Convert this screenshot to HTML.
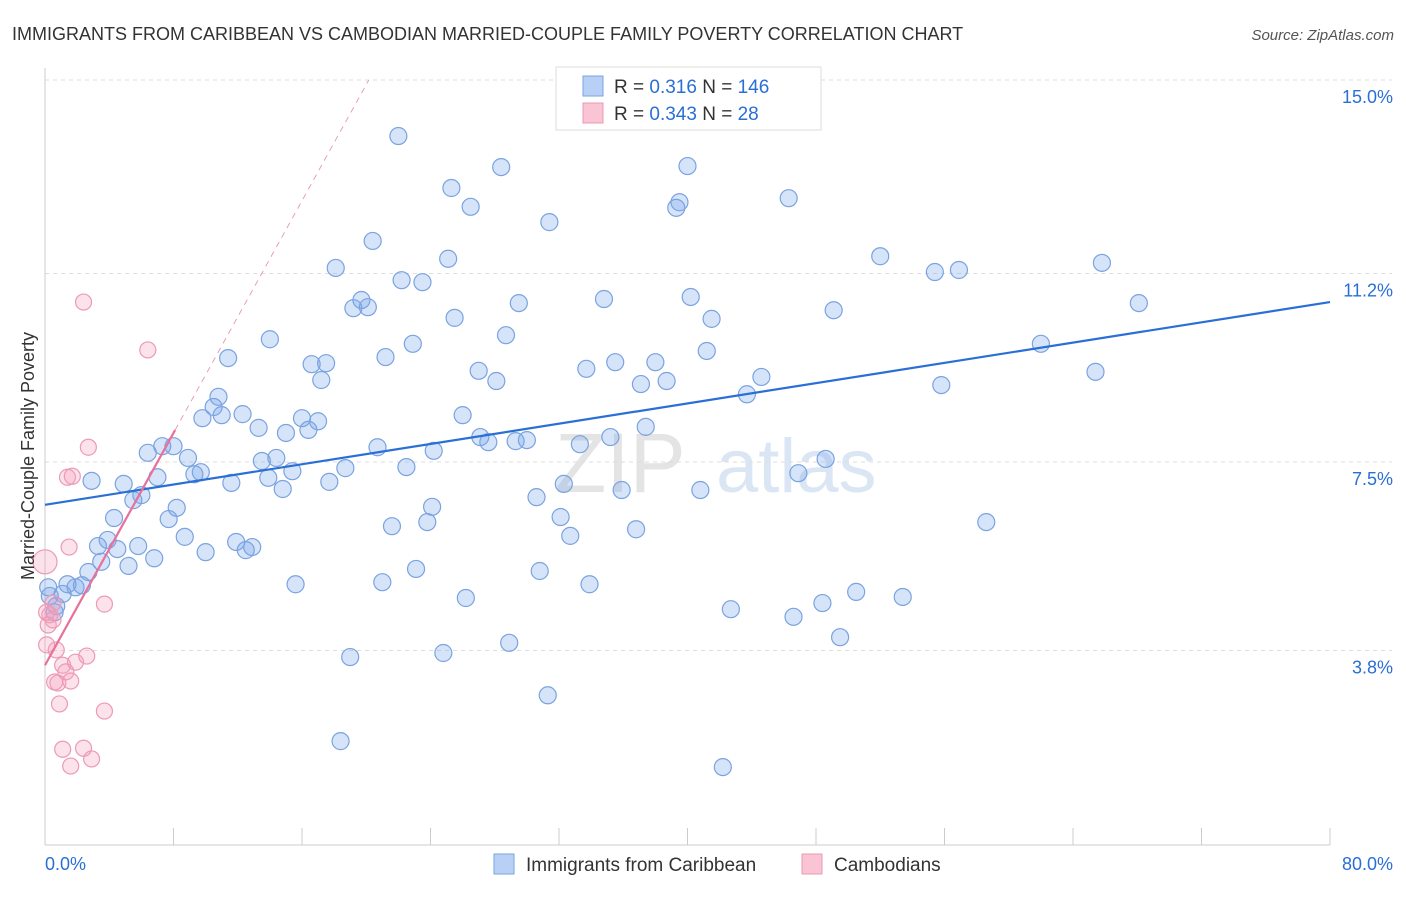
<!DOCTYPE html>
<html><head><meta charset="utf-8">
<style>
body{margin:0;background:#fff;font-family:"Liberation Sans",sans-serif;}
svg text{font-family:"Liberation Sans",sans-serif;}
</style></head>
<body>
<svg id="chart" width="1406" height="892" viewBox="0 0 1406 892" xmlns="http://www.w3.org/2000/svg">
<text x="12" y="40" font-size="18" fill="#333">IMMIGRANTS FROM CARIBBEAN VS CAMBODIAN MARRIED-COUPLE FAMILY POVERTY CORRELATION CHART</text>
<text x="1394" y="40" font-size="15" fill="#555" text-anchor="end" font-style="italic">Source: ZipAtlas.com</text>
<g><text x="555" y="492" font-size="84" fill="#e4e4e4" font-family="Liberation Serif,serif">ZIP</text><text x="716" y="492" font-size="76" fill="#dbe6f5">atlas</text></g>
<g id="grid"></g>
<g id="axes"></g>
<g id="blue"></g>
<g id="pink"></g>
<g id="trends"></g>
<text transform="translate(34,456) rotate(-90)" font-size="18" fill="#333" text-anchor="middle">Married-Couple Family Poverty</text>
<g>
<rect x="556" y="67" width="265" height="63" fill="#fff" stroke="#ddd"/>
<rect x="583" y="76" width="20" height="20" fill="#b8d0f5" stroke="#7aa3e0"/>
<rect x="583" y="103" width="20" height="20" fill="#f9c4d4" stroke="#ec9ab5"/>
<text x="614" y="93" font-size="19" fill="#333">R = <tspan fill="#2a6fd6">0.316</tspan>   N = <tspan fill="#2a6fd6">146</tspan></text>
<text x="614" y="120" font-size="19" fill="#333">R = <tspan fill="#2a6fd6">0.343</tspan>   N =   <tspan fill="#2a6fd6">28</tspan></text>
</g>
<g>
<rect x="494" y="854" width="20" height="20" fill="#b8d0f5" stroke="#7aa3e0"/>
<text x="526" y="871" font-size="19" fill="#333">Immigrants from Caribbean</text>
<rect x="802" y="854" width="20" height="20" fill="#f9c4d4" stroke="#ec9ab5"/>
<text x="834" y="871" font-size="19" fill="#333">Cambodians</text>
</g>
</svg>
<script>
const yTicks=[3.8,7.5,11.2,15.0];
const yTickLabels=["3.8%","7.5%","11.2%","15.0%"];
const xTickLabels=["0.0%","80.0%"];
const blueX=[22.0,28.4,40.0,25.3,26.5,39.5,39.3,46.3,31.4,20.4,52.0,25.1,18.1,56.9,55.4,65.8,22.2,23.5,19.7,19.2,20.1,29.5,34.8,40.2,68.1,49.1,25.5,41.5,14.0,28.7,22.9,62.0,11.4,21.2,16.6,17.5,35.5,38.0,41.2,27.0,33.7,17.2,28.1,37.1,38.7,44.6,55.8,65.4,10.8,10.5,43.7,11.0,9.8,12.3,16.0,17.0,26.0,16.4,13.3,15.0,7.3,8.0,20.7,27.1,27.6,29.3,30.0,35.2,37.4,33.3,24.2,6.4,8.9,13.5,14.4,9.7,9.3,7.0,15.4,18.7,22.5,48.6,46.9,2.9,4.9,11.6,13.9,17.7,14.8,32.3,35.9,40.8,6.0,5.5,30.6,8.2,24.1,4.3,7.7,21.6,23.8,32.1,58.6,36.8,32.7,8.7,3.9,3.3,4.5,11.9,12.9,12.5,5.8,10.0,6.8,5.2,3.5,2.7,23.1,30.8,15.6,21.0,33.9,1.4,2.3,1.9,1.1,0.3,0.7,0.2,26.2,50.5,53.4,48.4,42.7,46.6,49.5,28.9,19.0,24.8,31.3,18.4,42.2,0.6];
const blueY=[13.90,13.29,13.31,12.88,12.51,12.60,12.49,12.68,12.21,11.84,11.54,11.49,11.31,11.27,11.23,11.41,11.07,11.03,10.68,10.52,10.54,10.62,10.70,10.74,10.62,10.48,10.33,10.31,9.91,9.99,9.82,9.82,9.54,9.56,9.42,9.44,9.46,9.46,9.68,9.29,9.33,9.11,9.09,9.03,9.09,9.17,9.01,9.27,8.78,8.58,8.83,8.42,8.36,8.44,8.36,8.30,8.42,8.13,8.17,8.07,7.81,7.81,7.79,7.99,7.89,7.91,7.93,7.99,8.19,7.85,7.72,7.68,7.58,7.52,7.58,7.30,7.26,7.20,7.32,7.38,7.40,7.56,7.28,7.13,7.07,7.09,7.19,7.11,6.97,7.07,6.95,6.95,6.85,6.75,6.81,6.60,6.62,6.40,6.38,6.24,6.32,6.42,6.32,6.18,6.05,6.03,5.97,5.85,5.79,5.93,5.83,5.77,5.85,5.73,5.61,5.46,5.54,5.34,5.40,5.36,5.10,5.14,5.10,5.10,5.08,5.04,4.91,4.87,4.67,5.04,4.83,4.95,4.85,4.73,4.61,4.46,4.06,3.95,3.67,3.75,2.92,2.02,1.51,4.55];
const pinkX=[2.4,6.4,2.7,1.4,1.7,1.5,0.0,3.7,0.3,0.5,0.2,0.7,2.6,1.1,1.9,1.3,0.6,0.8,1.6,0.9,3.7,1.1,2.4,1.6,2.9,0.1,0.5,0.1];
const pinkY=[10.64,9.70,7.79,7.20,7.22,5.83,5.54,4.71,4.50,4.40,4.30,3.81,3.69,3.51,3.57,3.38,3.18,3.16,3.20,2.75,2.61,1.86,1.88,1.53,1.67,3.91,4.73,4.55];
const blueTrend=[6.66,10.64];
const pinkTrend=[3.51,0.57];
const X0=45,X1=1330,Y0=844,Ytop=80;
const sx=v=>X0+(X1-X0)*v/80;
const sy=v=>Y0-(Y0-Ytop)*v/15;
const NS="http://www.w3.org/2000/svg";
function mk(tag,attrs,parent){const e=document.createElementNS(NS,tag);for(const k in attrs)e.setAttribute(k,attrs[k]);parent.appendChild(e);return e;}
const grid=document.getElementById('grid'),axes=document.getElementById('axes');
yTicks.forEach((t,i)=>{
 const g=mk('line',{x1:X0,x2:1392,y1:sy(t),y2:sy(t),stroke:'#ddd','stroke-dasharray':'4,4'},grid);
 
 
 const tx=mk('text',{x:1393,y:sy(t)+23,'font-size':18,fill:'#2a6fd6','text-anchor':'end'},axes);
 tx.textContent=yTickLabels[i];
 
 
});
const al=mk('line',{x1:X0,x2:X0,y1:68,y2:845,stroke:'#ccc'},axes);


const bl=mk('line',{x1:X0,x2:X1,y1:845,y2:845,stroke:'#ccc'},axes);


for(let i=0;i<=10;i++){
 const t=mk('line',{x1:sx(i*8),x2:sx(i*8),y1:828,y2:845,stroke:'#ccc'},axes);
 
 
}
[[0,'start',X0],[80,'end',1393]].forEach((d,i)=>{
 const t=mk('text',{x:d[2],y:870,'font-size':18,fill:'#2a6fd6','text-anchor':d[1]},axes);
 t.textContent=xTickLabels[i];
 
 
});
const blue=document.getElementById('blue'),pink=document.getElementById('pink');
blueX.forEach((x,i)=>{
 const c=mk('circle',{cx:sx(x),cy:sy(blueY[i]),r:8.5,fill:'rgba(120,165,235,0.3)',stroke:'#7aa3e0','stroke-width':1.2},blue);
 
 
});
pinkX.forEach((x,i)=>{
 const c=mk('circle',{cx:sx(x),cy:sy(pinkY[i]),r:i==6?12:8,fill:'rgba(245,160,190,0.3)',stroke:'#ec9ab5','stroke-width':1.2},pink);
 
 
});
const tr=document.getElementById('trends');
const b=mk('line',{x1:sx(0),y1:sy(blueTrend[0]),x2:sx(80),y2:sy(blueTrend[1]),stroke:'#2a6fd6','stroke-width':2.2},tr);


const xEnd=(15-pinkTrend[0])/pinkTrend[1];
const pd=mk('line',{x1:sx(8.1),y1:sy(pinkTrend[0]+pinkTrend[1]*8.1),x2:sx(xEnd),y2:sy(15),stroke:'#e89ab5','stroke-width':1,'stroke-dasharray':'6,5'},tr);


const p=mk('line',{x1:sx(0),y1:sy(pinkTrend[0]),x2:sx(8.1),y2:sy(pinkTrend[0]+pinkTrend[1]*8.1),stroke:'#e8709a','stroke-width':2.2},tr);


</script>
</body></html>
